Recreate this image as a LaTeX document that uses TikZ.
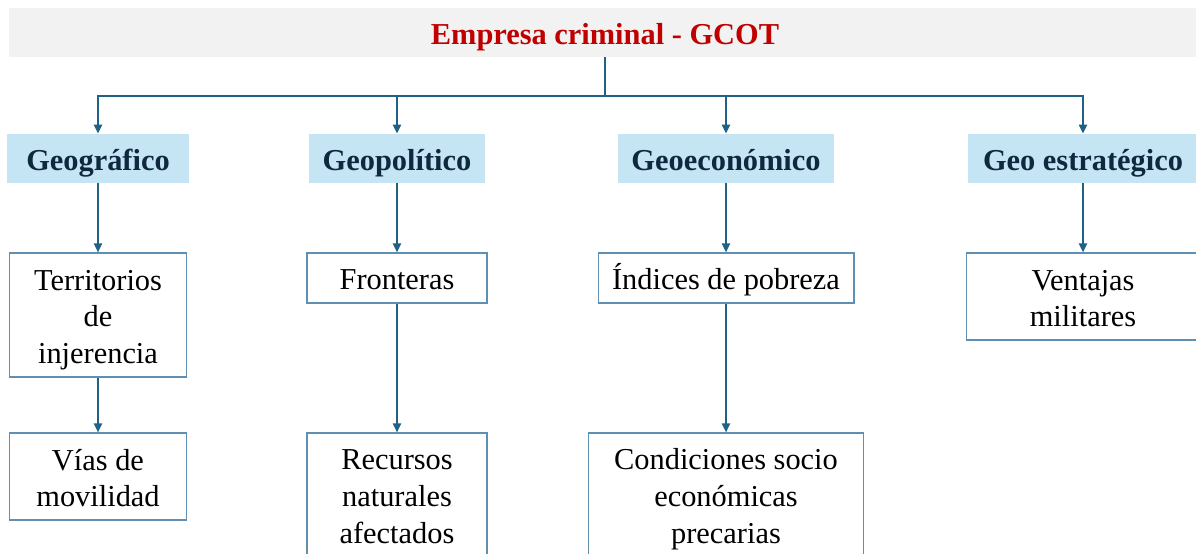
\documentclass[tikz,border=0pt]{standalone}
\usepackage{fontspec}
\setmainfont{Liberation Serif}
\usetikzlibrary{arrows.meta}
\definecolor{arrowc}{HTML}{1F6286}
\definecolor{boxc}{HTML}{5F90B4}
\definecolor{headfill}{HTML}{C5E5F4}
\definecolor{headtext}{HTML}{10283F}
\definecolor{titlered}{HTML}{C00000}
\definecolor{barfill}{HTML}{F2F2F2}
\tikzset{
  oneline/.style={text height=16pt, text depth=2.4pt},
  twolines/.style={text height=37pt, text depth=2.4pt},
  threelines/.style={text height=58pt, text depth=2.4pt},
  bar/.style={fill=barfill, draw=none, inner sep=0pt, oneline, font=\fontsize{17.3}{21}\selectfont\bfseries, text=titlered},
  head/.style={fill=headfill, draw=none, inner sep=0pt, oneline, minimum height=0.98cm, font=\fontsize{17.3}{21}\selectfont\bfseries, text=headtext},
  itembox/.style={draw=boxc, line width=0.6pt, fill=white, inner sep=0pt, align=center, font=\fontsize{17.3}{21}\selectfont},
  conn/.style={draw=arrowc, line width=1.2pt},
  arr/.style={conn, -{Triangle[length=5.2pt,width=4.6pt]}}
}
\begin{document}
\begin{tikzpicture}[x=0.02cm,y=-0.02cm]
\clip (0,0) rectangle (1196,554);
\fill[white] (0,0) rectangle (1196,554);
\node[bar, minimum width=23.84cm, minimum height=0.98cm] (top) at (605,32.5) {Empresa criminal - GCOT};
\node[head, minimum width=3.64cm] (geo) at (98,158.5) {Geográfico};
\node[head, minimum width=3.52cm] (pol) at (397,158.5) {Geopolítico};
\node[head, minimum width=4.32cm] (eco) at (726,158.5) {Geoeconómico};
\node[head, minimum width=4.6cm] (est) at (1083,158.5) {Geo estratégico};
\node[itembox, threelines, minimum width=3.54cm, minimum height=2.48cm] (ter) at (98,315) {Territorios\\de\\injerencia};
\node[itembox, twolines, minimum width=3.54cm, minimum height=1.74cm] (via) at (98,476.5) {Vías de\\movilidad};
\node[itembox, oneline, minimum width=3.6cm, minimum height=1.0cm] (fro) at (397,278) {Fronteras};
\node[itembox, threelines, minimum width=3.6cm, minimum height=2.46cm] (rec) at (397,494.5) {Recursos\\naturales\\afectados};
\node[itembox, oneline, minimum width=5.12cm, minimum height=1.0cm] (ind) at (726,278) {Índices de pobreza};
\node[itembox, threelines, minimum width=5.5cm, minimum height=2.46cm] (con) at (726,494.5) {Condiciones socio\\económicas\\precarias};
\node[itembox, twolines, minimum width=4.68cm, minimum height=1.74cm] (ven) at (1083,296.5) {Ventajas\\militares};
\coordinate (bus) at (605,96);
\draw[conn] (top.south) -- (bus);
\draw[arr] (bus) -| (geo);
\draw[arr] (bus) -| (pol);
\draw[arr] (bus) -| (eco);
\draw[arr] (bus) -| (est);
\draw[conn, line width=1.7pt] (bus -| geo) -- (bus -| est);
\draw[arr] (geo) -- (ter);
\draw[arr] (ter) -- (via);
\draw[arr] (pol) -- (fro);
\draw[arr] (fro) -- (rec);
\draw[arr] (eco) -- (ind);
\draw[arr] (ind) -- (con);
\draw[arr] (est) -- (ven);
\end{tikzpicture}
\end{document}
